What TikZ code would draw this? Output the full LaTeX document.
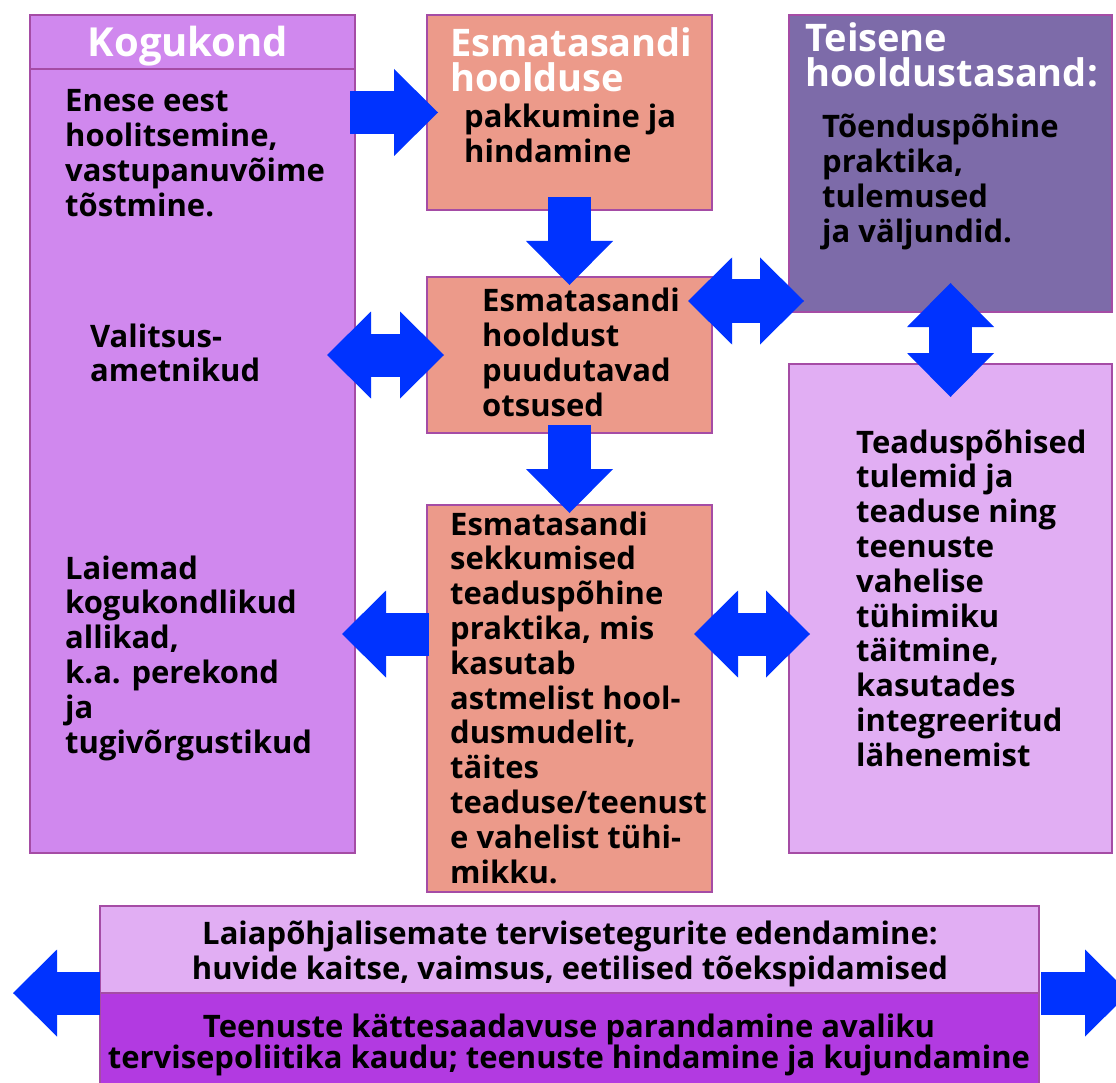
\documentclass[tikz,border=0pt]{standalone}
\usepackage{fontspec}
\setmainfont{Open Sans}
\usetikzlibrary{arrows.meta}

\definecolor{kogu}{HTML}{D088EE}
\definecolor{lohe}{HTML}{EC9A8A}
\definecolor{teise}{HTML}{7D6BA9}
\definecolor{hele}{HTML}{E1AEF3}
\definecolor{tume}{HTML}{B23AE1}
\definecolor{serv}{HTML}{A54CA5}
\definecolor{sinine}{HTML}{0033FF}

\newcommand\keha{\fontsize{31}{34.8}\selectfont\bfseries}
\newcommand\suur{\fontsize{38}{34.5}\selectfont\bfseries}

\tikzset{
  kast/.style={draw=serv, line width=2pt, anchor=north west, inner sep=0pt, outer sep=0pt},
  tekst/.style={anchor=base west, inner sep=0pt, font=\keha,
    execute at begin node={\begin{minipage}[t]{10cm}\raggedright},
    execute at end node={\end{minipage}}},
  keskel/.style={anchor=base, inner sep=0pt, font=\keha,
    execute at begin node={\begin{minipage}[t]{36cm}\centering},
    execute at end node={\end{minipage}}},
  pealkiri/.style={anchor=base west, inner sep=0pt, font=\suur,
    execute at begin node={\begin{minipage}[t]{10cm}\raggedright\leavevmode\color{white}},
    execute at end node={\end{minipage}}},
  nool/.style={draw=sinine, line width=43pt}
}

\begin{document}
\begin{tikzpicture}[x=1pt,y=-1pt,>={Triangle[length=44pt,width=87pt,line width=0pt]}]
\useasboundingbox (0,0) rectangle (1116,1083);
% kastid
\node[kast, fill=kogu, minimum width=325pt, minimum height=838pt] (kog) at (30,15) {};
\draw[serv, line width=2pt] ([yshift=-54pt]kog.north west) -- ([yshift=-54pt]kog.north east);
\node[kast, fill=lohe, minimum width=285pt, minimum height=195pt] (hind) at (427,15) {};
\node[kast, fill=teise, minimum width=323pt, minimum height=297pt] (teis) at (789,15) {};
\node[kast, fill=lohe, minimum width=285pt, minimum height=156pt] (otsus) at (427,277) {};
\node[kast, fill=lohe, minimum width=285pt, minimum height=387pt] (sekk) at (427,505) {};
\node[kast, fill=hele, minimum width=323pt, minimum height=489pt] (tead) at (789,364) {};
\node[kast, fill=hele, minimum width=939pt, minimum height=87pt] (edend) at (100,906) {};
\node[kast, fill=tume, minimum width=939pt, minimum height=120pt] (poliit) at (100,993) {};

% nooled
\draw[nool,->,shorten <=-5pt,shorten >=-11pt] (kog.east |- hind.west) -- (hind.west);
\draw[nool,->,shorten <=-13pt,shorten >=-8pt] (hind.south) -- (otsus.north);
\draw[nool,<->,shorten <=-28pt,shorten >=-17pt] (kog.east |- otsus.west) -- (otsus.west);
\coordinate (m4) at ([yshift=54pt]otsus.east);
\draw[nool,<->,shorten <=-24pt,shorten >=-15pt] (m4) -- (m4 -| teis.west);
\draw[nool,<->,shorten <=-29pt,shorten >=-33pt] (teis.south) -- (tead.north);
\draw[nool,->,shorten <=-8pt,shorten >=-8pt] (otsus.south) -- (sekk.north);
\coordinate (m7) at ([yshift=64.5pt]sekk.west);
\draw[nool,->,shorten <=-2pt,shorten >=-13pt] (m7) -- (m7 -| kog.east);
\draw[nool,<->,shorten <=-18pt,shorten >=-21pt] (m7 -| sekk.east) -- (m7 -| tead.west);
\coordinate (vasak) at (13,993);
\coordinate (parem) at (1129,993);
\draw[nool,->] (edend.south west) -- (vasak);
\draw[nool,->,shorten <=2pt] (edend.south east) -- (parem);

% tekstid
\node[anchor=base, inner sep=0pt, font=\fontsize{40}{40}\selectfont\bfseries, text=white] (kogpk) at (188,57) {Kogukond};
\node[tekst] (enese) at (65,112) {Enese eest\\hoolitsemine,\\vastupanuvõime\\tõstmine.};
\node[tekst] (valits) at (90,347) {Valitsus-\\ametnikud};
\node[tekst] (laiem) at (65,579) {Laiemad\\kogukondlikud\\allikad,\\k.a. perekond\\ja\\tugivõrgustikud};
\node[pealkiri] (hindpk) at (450,57) {Esmatasandi\\hoolduse};
\node[tekst] (pakk) at (464,128) {pakkumine ja\\hindamine};
\node[pealkiri] (teispk) at (805,52) {Teisene\\hooldustasand:};
\node[tekst] (toend) at (822,138) {Tõenduspõhine\\praktika,\\tulemused\\ja väljundid.};
\node[tekst] (otsust) at (482,312) {Esmatasandi\\hooldust\\puudutavad\\otsused};
\node[tekst] (sekkt) at (450,535) {Esmatasandi\\sekkumised\\teaduspõhine\\praktika, mis\\kasutab\\astmelist hool-\\dusmudelit,\\täites\\teaduse/teenust\\e vahelist tühi-\\mikku.};
\node[tekst] (teadt) at (856,453) {Teaduspõhised\\tulemid ja\\teaduse ning\\teenuste\\vahelise\\tühimiku\\täitmine,\\kasutades\\integreeritud\\lähenemist};
\node[keskel, font=\fontsize{31}{35}\selectfont\bfseries] (edendt) at (570,944) {Laiapõhjalisemate tervisetegurite edendamine:\\huvide kaitse, vaimsus, eetilised tõekspidamised};
\node[keskel, font=\fontsize{31}{31}\selectfont\bfseries] (poliitt) at (569,1037) {Teenuste kättesaadavuse parandamine avaliku\\tervisepoliitika kaudu; teenuste hindamine ja kujundamine};
\end{tikzpicture}
\end{document}
